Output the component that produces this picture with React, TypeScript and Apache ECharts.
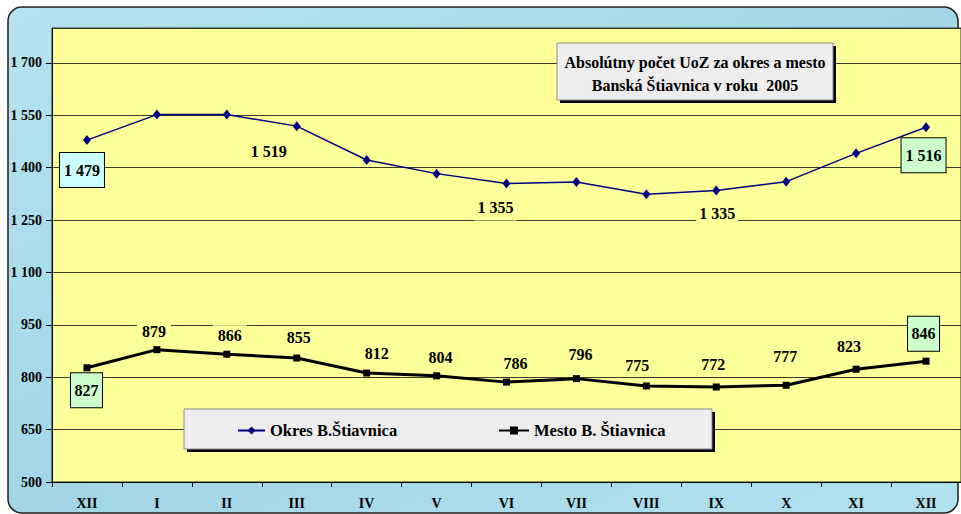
import React, { useEffect, useRef } from "react";
import * as echarts from "echarts";

const categories = ["XII", "I", "II", "III", "IV", "V", "VI", "VII", "VIII", "IX", "X", "XI", "XII"];
const okresValues = [1479, 1552, 1552, 1519, 1422, 1383, 1355, 1359, 1324, 1335, 1360, 1441, 1516];
const mestoValues = [827, 879, 866, 855, 812, 804, 786, 796, 775, 772, 777, 823, 846];
const okresName = "Okres B.Štiavnica";
const mestoName = "Mesto B. Štiavnica";
const titleLines = ["Absolútny počet UoZ za okres a mesto", "Banská Štiavnica v roku  2005"];
const yMin = 500;
const yMax = 1800;
const yStep = 150;

const FONT = "Liberation Serif, Times New Roman, serif";
const YELLOW = "#FFFF99";

const fmt = (v: number) => {
  if (v >= 1000) {
    const t = Math.floor(v / 1000);
    const r = String(v % 1000).padStart(3, "0");
    return `${t} ${r}`;
  }
  return `${v}`;
};

const baseLabel = {
  show: true,
  color: "#000",
  fontFamily: FONT,
  fontWeight: "bold",
  fontSize: 16,
  formatter: (p: any) => fmt(p.value),
};

const boxed = (position: string, distance: number, dx: number, bg: string, padH: number) => ({
  ...baseLabel,
  position,
  distance,
  offset: [dx, 0],
  backgroundColor: bg,
  borderColor: "#000",
  borderWidth: 1,
  lineHeight: 18,
  padding: [8, padH, 8, padH],
});

const plain = (position: string, distance: number, dx: number, padding: number[]) => ({
  ...baseLabel,
  position,
  distance,
  offset: [dx, 0],
  backgroundColor: YELLOW,
  lineHeight: 16,
  padding,
});

// label placement (style only)
const okresLabels: Record<number, any> = {
  0: boxed("bottom", 8, -5, "#CCFFFF", 4),
  3: plain("bottom", 10, -28, [2, 3, 2, 3]),
  6: plain("bottom", 10, -11, [1, 3, 5, 3]),
  9: plain("bottom", 9, 1, [1, 3, 4, 3]),
  12: boxed("bottom", 6, -2.5, "#CCFFCC", 4),
};
const mestoDist = [0, 4.5, 5.5, 7.5, 6.5, 4.5, 5.5, 10.5, 6.5, 9.5, 15.5, 9.5, 0];
const mestoDx = [0, -3, 3, 2, 10, 4, 9, 4, -9, -3, -1, -7, 0];
const mestoLabel = (i: number) => {
  if (i === 0) return boxed("bottom", 2, -0.5, "#CCFFCC", 3.5);
  if (i === mestoValues.length - 1) return boxed("top", 7, -2.5, "#CCFFCC", 3.5);
  return plain("top", mestoDist[i], mestoDx[i], [2, 5, 2, 5]);
};

export default function App() {
  const ref = useRef<HTMLDivElement>(null);
  useEffect(() => {
    if (!ref.current) return;
    const chart = echarts.init(ref.current, undefined, { renderer: "svg" });
    const okresData = okresValues.map((v, i) =>
      okresLabels[i] ? { value: v, label: okresLabels[i] } : { value: v, label: { show: false } }
    );
    const mestoData = mestoValues.map((v, i) => ({ value: v, label: mestoLabel(i) }));
    const txt = (text: string, y: number) => ({
      type: "text",
      z: 11,
      x: 695,
      y,
      style: {
        text,
        fill: "#000",
        fontFamily: FONT,
        fontWeight: "bold",
        fontSize: 16,
        textAlign: "center",
        textVerticalAlign: "middle",
      },
    });
    const legendText = { color: "#000", fontFamily: FONT, fontWeight: "bold", fontSize: 16.5 };
    chart.setOption({
      animation: false,
      backgroundColor: "transparent",
      textStyle: { fontFamily: FONT },
      grid: {
        left: 52,
        top: 28,
        width: 910,
        height: 454,
        show: true,
        backgroundColor: YELLOW,
        borderColor: "#333",
        borderWidth: 1,
        z: 1,
      },
      xAxis: {
        type: "category",
        data: categories,
        boundaryGap: true,
        axisLine: { show: true, lineStyle: { color: "#000", width: 1 } },
        axisTick: { show: true, length: 5, lineStyle: { color: "#000" } },
        axisLabel: {
          margin: 14,
          color: "#000",
          fontFamily: FONT,
          fontWeight: "bold",
          fontSize: 14,
        },
        splitLine: { show: false },
        z: 3,
      },
      yAxis: {
        type: "value",
        min: yMin,
        max: yMax,
        interval: yStep,
        axisLine: { show: true, lineStyle: { color: "#000", width: 1 } },
        axisTick: { show: true, length: 6, lineStyle: { color: "#000" } },
        axisLabel: {
          margin: 10,
          color: "#000",
          fontFamily: FONT,
          fontWeight: "bold",
          fontSize: 14,
          showMaxLabel: false,
          formatter: (v: number) => fmt(v),
        },
        splitLine: { show: true, lineStyle: { color: "#3a3a2a", width: 1 } },
        z: 3,
      },
      legend: [
        {
          data: [okresName],
          left: 237,
          top: 422,
          padding: 0,
          itemWidth: 27,
          itemHeight: 10,
          z: 12,
          textStyle: legendText,
        },
        {
          data: [mestoName],
          left: 498,
          top: 422,
          padding: 0,
          itemWidth: 30,
          itemHeight: 10,
          z: 12,
          textStyle: legendText,
        },
      ],
      graphic: [
        {
          type: "rect",
          z: -10,
          shape: { x: 8, y: 7, width: 950, height: 506, r: 14 },
          style: {
            fill: {
              type: "linear",
              x: 0,
              y: 0,
              x2: 1,
              y2: 1,
              colorStops: [
                { offset: 0, color: "#B6E3EF" },
                { offset: 0.5, color: "#A2D6E6" },
                { offset: 1, color: "#B2E1EE" },
              ],
            },
            stroke: "#222",
            lineWidth: 1.5,
          },
        },
        // title box
        { type: "rect", z: 10, shape: { x: 560, y: 46, width: 276, height: 57 }, style: { fill: "#000" } },
        {
          type: "rect",
          z: 10,
          shape: { x: 557, y: 43, width: 276, height: 57 },
          style: { fill: "#EDEDED", stroke: "#8A8A8A", lineWidth: 1 },
        },
        txt(titleLines[0], 62),
        txt(titleLines[1], 85),
        // legend box
        { type: "rect", z: 10, shape: { x: 187, y: 412, width: 528, height: 40 }, style: { fill: "#000" } },
        {
          type: "rect",
          z: 10,
          shape: { x: 184, y: 409, width: 528, height: 40 },
          style: { fill: "#EDEDED", stroke: "#8A8A8A", lineWidth: 1 },
        },
      ],
      series: [
        {
          name: okresName,
          type: "line",
          data: okresData,
          color: "#000080",
          symbol: "diamond",
          symbolSize: [8, 10],
          lineStyle: { width: 1.5, color: "#000080" },
          itemStyle: { color: "#000080" },
          z: 5,
        },
        {
          name: mestoName,
          type: "line",
          data: mestoData,
          color: "#000",
          symbol: "rect",
          symbolSize: 7,
          lineStyle: { width: 3, color: "#000" },
          itemStyle: { color: "#000" },
          z: 5,
        },
      ],
    });
    return () => chart.dispose();
  }, []);
  return (
    <div
      ref={ref}
      style={{ position: "absolute", left: 0, top: 0, width: 961, height: 514 }}
    />
  );
}
